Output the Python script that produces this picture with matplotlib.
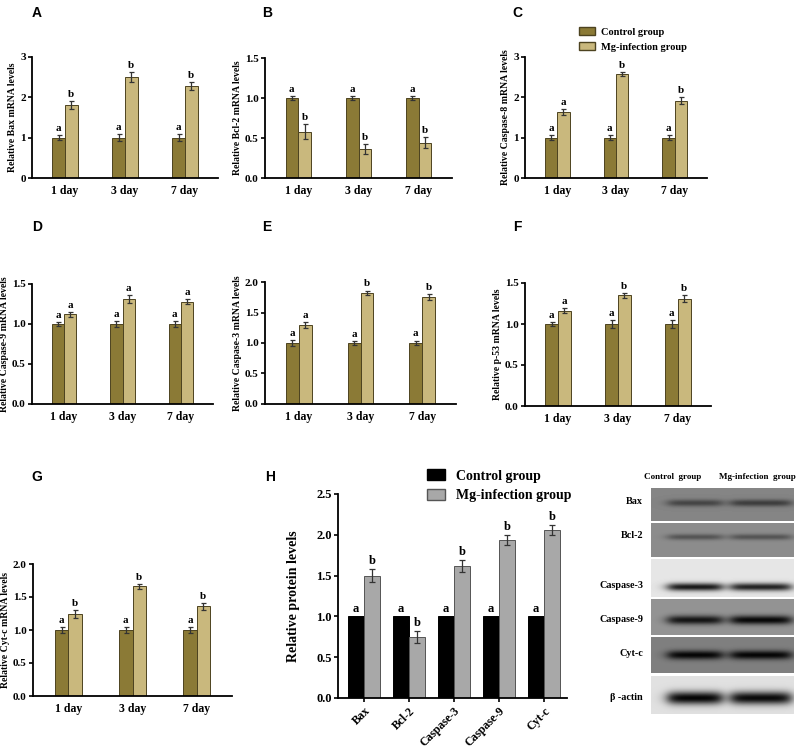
import numpy as np
import matplotlib.pyplot as plt
from matplotlib.patches import Patch

W, H = 798, 750
fig = plt.figure(figsize=(W / 100, H / 100), dpi=100)

serif = 'Liberation Serif'
sans = 'Liberation Sans'

ctrl_color = '#8b7a36'
mg_color = '#c9b87d'
edge_color = '#4d4320'

days = ['1 day', '3 day', '7 day']

# mRNA data (control always 1)
bax_ctrl = [1.0, 1.0, 1.0]
bax_ctrl_err = [0.06, 0.09, 0.09]
bax_mg = [1.80, 2.50, 2.27]
bax_mg_err = [0.10, 0.12, 0.10]

bcl2_ctrl = [1.0, 1.0, 1.0]
bcl2_ctrl_err = [0.03, 0.02, 0.03]
bcl2_mg = [0.58, 0.36, 0.44]
bcl2_mg_err = [0.09, 0.06, 0.07]

casp8_ctrl = [1.0, 1.0, 1.0]
casp8_ctrl_err = [0.06, 0.06, 0.07]
casp8_mg = [1.63, 2.57, 1.92]
casp8_mg_err = [0.08, 0.05, 0.09]

casp9_ctrl = [1.0, 1.0, 1.0]
casp9_ctrl_err = [0.03, 0.04, 0.04]
casp9_mg = [1.12, 1.31, 1.28]
casp9_mg_err = [0.03, 0.05, 0.03]

casp3_ctrl = [1.0, 1.0, 1.0]
casp3_ctrl_err = [0.05, 0.03, 0.04]
casp3_mg = [1.29, 1.82, 1.75]
casp3_mg_err = [0.05, 0.04, 0.05]

p53_ctrl = [1.0, 1.0, 1.0]
p53_ctrl_err = [0.02, 0.05, 0.05]
p53_mg = [1.16, 1.35, 1.31]
p53_mg_err = [0.03, 0.03, 0.04]

cytc_ctrl = [1.0, 1.0, 1.0]
cytc_ctrl_err = [0.05, 0.04, 0.05]
cytc_mg = [1.24, 1.66, 1.36]
cytc_mg_err = [0.06, 0.04, 0.05]

# protein data
proteins = ['Bax', 'Bcl-2', 'Caspase-3', 'Caspase-9', 'Cyt-c']
prot_ctrl = [1.0, 1.0, 1.0, 1.0, 1.0]
prot_mg = [1.50, 0.75, 1.62, 1.94, 2.06]
prot_mg_err = [0.08, 0.07, 0.07, 0.06, 0.06]


def add_ax(x0, y0, x1, y1):
    # pixel box -> figure axes
    return fig.add_axes([x0 / W, 1 - y1 / H, (x1 - x0) / W, (y1 - y0) / H])


def style_ax(ax, fs=8):
    for s in ['top', 'right']:
        ax.spines[s].set_visible(False)
    for s in ['left', 'bottom']:
        ax.spines[s].set_linewidth(1.3)
    ax.tick_params(axis='y', width=1.2, length=3, labelsize=fs, pad=1.5)
    for lab in ax.get_xticklabels() + ax.get_yticklabels():
        lab.set_fontfamily(serif)
        lab.set_fontweight('bold')


def mrna_panel(box, ylabel, ctrl, ctrl_err, mg, mg_err, let_c, let_m, ymax, step, fmt):
    ax = add_ax(*box)
    x = np.arange(len(days))
    w = 0.21
    ekw = dict(ecolor='#333333', elinewidth=0.9, capsize=1.8, capthick=0.9)
    ax.bar(x - w / 2, ctrl, w, color=ctrl_color, edgecolor=edge_color, linewidth=0.7,
           yerr=ctrl_err, error_kw=ekw)
    ax.bar(x + w / 2, mg, w, color=mg_color, edgecolor=edge_color, linewidth=0.7,
           yerr=mg_err, error_kw=ekw)
    for i in range(len(days)):
        ax.annotate(let_c[i], (x[i] - w / 2, ctrl[i] + ctrl_err[i]), xytext=(0, 1.5),
                    textcoords='offset points', ha='center', va='bottom',
                    fontsize=8, fontweight='bold', family=serif)
        ax.annotate(let_m[i], (x[i] + w / 2, mg[i] + mg_err[i]), xytext=(0, 1.5),
                    textcoords='offset points', ha='center', va='bottom',
                    fontsize=8, fontweight='bold', family=serif)
    ax.set_xlim(-0.55, 2.55)
    ax.set_ylim(0, ymax)
    ticks = np.arange(0, ymax + 1e-9, step)
    ax.set_yticks(ticks)
    ax.set_yticklabels([fmt.format(t) for t in ticks])
    ax.set_xticks(x)
    ax.set_xticklabels(days)
    ax.set_ylabel(ylabel, fontsize=7, fontweight='bold', family=serif, labelpad=2)
    style_ax(ax)
    ax.tick_params(axis='x', length=0, pad=5, labelsize=8.5)
    return ax


mrna_panel((32, 57, 218, 178), 'Relative Bax mRNA levels', bax_ctrl, bax_ctrl_err,
           bax_mg, bax_mg_err, ['a'] * 3, ['b'] * 3, 3, 1, '{:.0f}')
mrna_panel((265, 58, 452, 178), 'Relative Bcl-2 mRNA levels', bcl2_ctrl, bcl2_ctrl_err,
           bcl2_mg, bcl2_mg_err, ['a'] * 3, ['b'] * 3, 1.5, 0.5, '{:.1f}')
mrna_panel((525, 57, 707, 178), 'Relative Caspase-8 mRNA levels', casp8_ctrl, casp8_ctrl_err,
           casp8_mg, casp8_mg_err, ['a'] * 3, ['a', 'b', 'b'], 3, 1, '{:.0f}')
mrna_panel((32, 284, 213, 404), 'Relative Caspase-9 mRNA levels', casp9_ctrl, casp9_ctrl_err,
           casp9_mg, casp9_mg_err, ['a'] * 3, ['a'] * 3, 1.5, 0.5, '{:.1f}')
mrna_panel((265, 282, 456, 404), 'Relative Caspase-3 mRNA levels', casp3_ctrl, casp3_ctrl_err,
           casp3_mg, casp3_mg_err, ['a'] * 3, ['a', 'b', 'b'], 2.0, 0.5, '{:.1f}')
mrna_panel((525, 283, 711, 406), 'Relative p-53 mRNA levels', p53_ctrl, p53_ctrl_err,
           p53_mg, p53_mg_err, ['a'] * 3, ['a', 'b', 'b'], 1.5, 0.5, '{:.1f}')
mrna_panel((33, 564, 232, 696), 'Relative Cyt-c mRNA levels', cytc_ctrl, cytc_ctrl_err,
           cytc_mg, cytc_mg_err, ['a'] * 3, ['b'] * 3, 2.0, 0.5, '{:.1f}')

# legend for mRNA panels
fig.legend(handles=[Patch(facecolor=ctrl_color, edgecolor=edge_color, label='Control group'),
                    Patch(facecolor=mg_color, edgecolor=edge_color, label='Mg-infection group')],
           loc='upper left', bbox_to_anchor=(570 / W, 1 - 18 / H), frameon=False,
           prop=dict(family=serif, weight='bold', size=7.5), handlelength=1.5, handleheight=0.7,
           labelspacing=0.55, handletextpad=0.6)

# panel H: protein levels
ax_h = add_ax(338, 494, 567, 698)
xp = np.arange(len(proteins))
wp = 0.36
ax_h.bar(xp - wp / 2, prot_ctrl, wp, color='black', edgecolor='black', linewidth=0.7)
ax_h.bar(xp + wp / 2, prot_mg, wp, color='#a8a8a8', edgecolor='#555555', linewidth=0.7,
         yerr=prot_mg_err, error_kw=dict(ecolor='#333333', elinewidth=0.9, capsize=2, capthick=0.9))
for i in range(len(proteins)):
    ax_h.annotate('a', (xp[i] - wp / 2, prot_ctrl[i]), xytext=(0, 1),
                  textcoords='offset points', ha='center', va='bottom',
                  fontsize=9, fontweight='bold', family=serif)
    ax_h.annotate('b', (xp[i] + wp / 2, prot_mg[i] + prot_mg_err[i]), xytext=(0, 1.5),
                  textcoords='offset points', ha='center', va='bottom',
                  fontsize=9, fontweight='bold', family=serif)
ax_h.set_xlim(-0.58, 4.51)
ax_h.set_ylim(0, 2.5)
ax_h.set_yticks(np.arange(0, 2.51, 0.5))
ax_h.set_yticklabels(['{:.1f}'.format(t) for t in np.arange(0, 2.51, 0.5)])
ax_h.set_xticks(xp)
ax_h.set_xticklabels(proteins, rotation=45, ha='right', rotation_mode='anchor')
ax_h.set_ylabel('Relative protein levels', fontsize=10, fontweight='bold', family=serif, labelpad=12)
style_ax(ax_h, fs=9)
ax_h.tick_params(axis='x', length=3, width=1.2, labelsize=8.5, pad=2)
ax_h.legend(handles=[Patch(facecolor='black', edgecolor='black', label='Control group'),
                     Patch(facecolor='#a8a8a8', edgecolor='#555555', label='Mg-infection group')],
            loc='upper left', bbox_to_anchor=(414 / W, 1 - 457 / H), bbox_transform=fig.transFigure,
            frameon=False, prop=dict(family=serif, weight='bold', size=10),
            handlelength=1.3, handleheight=0.8, labelspacing=0.45, handletextpad=0.8)

# panel letters
letters = ['A', 'B', 'C', 'D', 'E', 'F', 'G', 'H']
letter_x = [37, 267, 517, 37, 267, 517, 37, 270]
letter_y = [13, 13, 13, 227, 227, 227, 477, 477]
for t, lx, ly in zip(letters, letter_x, letter_y):
    fig.text(lx / W, 1 - ly / H, t, fontsize=10, fontweight='bold', family=sans,
             ha='center', va='center')

# western blot
blot_names = ['Bax', 'Bcl-2', 'Caspase-3', 'Caspase-9', 'Cyt-c', '\u03b2 -actin']
strip_top = [488, 523, 559, 599, 637, 676]
strip_bot = [521, 557, 597, 635, 673, 714]
strip_bg = [0.52, 0.55, 0.90, 0.58, 0.50, 0.88]
band_y = [503, 537, 587, 620, 655, 698]
band_h = [3.5, 3.0, 4.0, 4.5, 4.5, 6.5]
band_ctrl = [0.25, 0.22, 0.80, 0.50, 0.48, 0.86]
band_mg = [0.28, 0.22, 0.76, 0.55, 0.48, 0.84]
lane_ctrl = (668, 722)
lane_mg = (731, 791)

bx0, bx1, by0, by1 = 651, 794, 486, 714
xs = np.arange(bx0, bx1) + 0.5
ys = np.arange(by0, by1) + 0.5
img = np.ones((len(ys), len(xs)))
XX, YY = np.meshgrid(xs, ys)


def lane(x, a, b):
    return 1 / (1 + np.exp(-(x - a) / 3.5)) / (1 + np.exp((x - b) / 3.5))


for i in range(len(blot_names)):
    inside = (YY >= strip_top[i]) & (YY < strip_bot[i])
    val = np.full_like(XX, strip_bg[i])
    prof = np.exp(-((YY - band_y[i]) / band_h[i]) ** 2)
    val = val - band_ctrl[i] * prof * lane(XX, *lane_ctrl) - band_mg[i] * prof * lane(XX, *lane_mg)
    img[inside] = np.clip(val[inside], 0.02, 1)

ax_b = add_ax(bx0, by0, bx1, by1)
ax_b.imshow(img, cmap='gray', vmin=0, vmax=1, extent=(bx0, bx1, by1, by0), aspect='auto',
            interpolation='bilinear')
ax_b.axis('off')

for i, name in enumerate(blot_names):
    fig.text(643 / W, 1 - (band_y[i] - 1) / H, name, fontsize=7.3, fontweight='bold', family=serif,
             ha='right', va='center')
fig.text(673 / W, 1 - 477 / H, 'Control  group', fontsize=6.5, fontweight='bold', family=serif,
         ha='center', va='center')
fig.text(757 / W, 1 - 477 / H, 'Mg-infection  group', fontsize=6.5, fontweight='bold', family=serif,
         ha='center', va='center')

fig.savefig('out.png', dpi=100)
